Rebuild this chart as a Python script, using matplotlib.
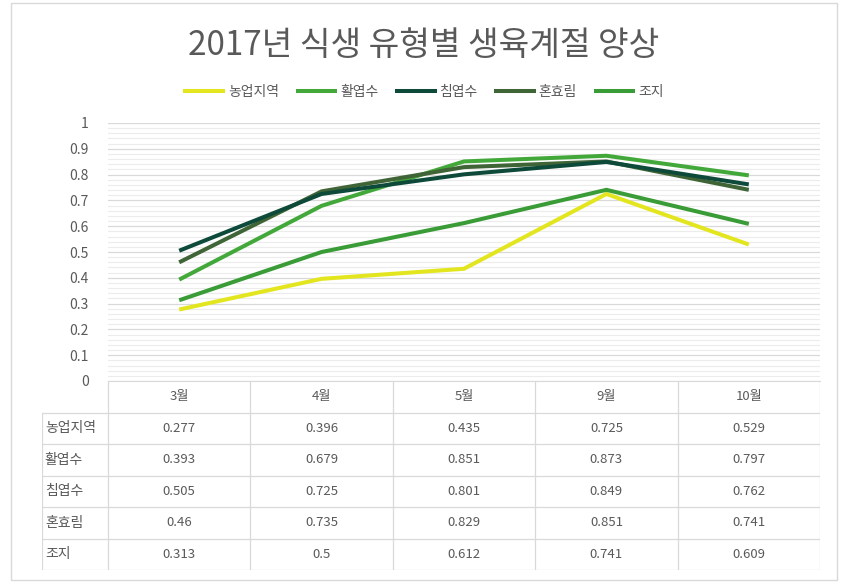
import matplotlib
matplotlib.use("Agg")
import matplotlib.pyplot as plt
from matplotlib.patches import Rectangle
import numpy as np

plt.rcParams['font.family'] = ['Noto Sans CJK KR', 'DejaVu Sans']

months = ["3월", "4월", "5월", "9월", "10월"]
series_names = ["농업지역", "활엽수", "침엽수", "혼효림", "조지"]
agri = [0.277, 0.396, 0.435, 0.725, 0.529]
broadleaf = [0.393, 0.679, 0.851, 0.873, 0.797]
conifer = [0.505, 0.725, 0.801, 0.849, 0.762]
mixed = [0.46, 0.735, 0.829, 0.851, 0.741]
grass = [0.313, 0.5, 0.612, 0.741, 0.609]
series_values = [agri, broadleaf, conifer, mixed, grass]
colors = ["#e3e61e", "#43a83a", "#0d4a3a", "#3f6436", "#3a9c36"]
draw_order = [0, 4, 1, 3, 2]

W, H = 847, 587
fig = plt.figure(figsize=(W / 100, H / 100), dpi=100)
txt = "#595959"

# outer frame
fig.add_artist(Rectangle((11 / W, 1 - 580 / H), 826 / W, 577 / H, transform=fig.transFigure,
                         fill=False, edgecolor="#d9d9d9", linewidth=1))

# chart area
ax = fig.add_axes([108 / W, 1 - 381 / H, 712 / W, 258 / H])
x = np.arange(len(months))
lines = {}
for i in draw_order:
    ln, = ax.plot(x, series_values[i], color=colors[i], linewidth=2.9,
                  solid_capstyle="butt", solid_joinstyle="miter", label=series_names[i])
    lines[i] = ln

ax.set_xlim(-0.5, len(months) - 0.5)
ax.set_ylim(0, 1)
ax.set_yticks(np.arange(0, 1.01, 0.1))
ax.set_yticks(np.arange(0, 1.001, 0.02), minor=True)
ax.yaxis.set_major_formatter(matplotlib.ticker.FuncFormatter(lambda v, p: f"{v:g}"))
ax.grid(axis="y", which="major", color="#d9d9d9", linewidth=0.9)
ax.grid(axis="y", which="minor", color="#ececec", linewidth=0.8)
ax.set_axisbelow(True)
ax.set_xticks([])
ax.tick_params(axis="y", which="both", length=0, labelsize=10, labelcolor=txt, pad=14)
for s in ["top", "right", "left"]:
    ax.spines[s].set_visible(False)
ax.spines["bottom"].set_color("#d9d9d9")

fig.text(0.5, 1 - 45 / H, "2017년 식생 유형별 생육계절 양상", ha="center", va="center",
         fontsize=24, color=txt)

fig.legend([lines[i] for i in range(5)], series_names, loc="center",
           bbox_to_anchor=(0.5, 1 - 92 / H), ncol=5, frameon=False, fontsize=10,
           handlelength=3.0, handletextpad=0.2, columnspacing=1.2, labelcolor=txt)

# data table below the chart
left_x = -0.5 - 66 / 142.4
tab = fig.add_axes([42 / W, 1 - 570 / H, 778 / W, 189 / H])
tab.set_xlim(left_x, len(months) - 0.5)
tab.set_ylim(6, 0)
tab.axis("off")
gc = "#d9d9d9"
for b in np.arange(-0.5, len(months), 1.0):
    tab.plot([b, b], [0, 6], color=gc, linewidth=0.9)
tab.plot([left_x, left_x], [1, 6], color=gc, linewidth=0.9)
for r in range(1, 7):
    tab.plot([left_x, len(months) - 0.5], [r, r], color=gc, linewidth=0.9)
for j, m in enumerate(months):
    tab.text(j, 0.5, m, ha="center", va="center", fontsize=9.5, color=txt)
for i, name in enumerate(series_names):
    tab.text(left_x + 0.02, i + 1.5, name, ha="left", va="center", fontsize=10, color=txt)
    for j, v in enumerate(series_values[i]):
        tab.text(j, i + 1.5, f"{v:g}", ha="center", va="center", fontsize=9.5, color=txt)

fig.savefig("out.png", dpi=100, facecolor="white")
